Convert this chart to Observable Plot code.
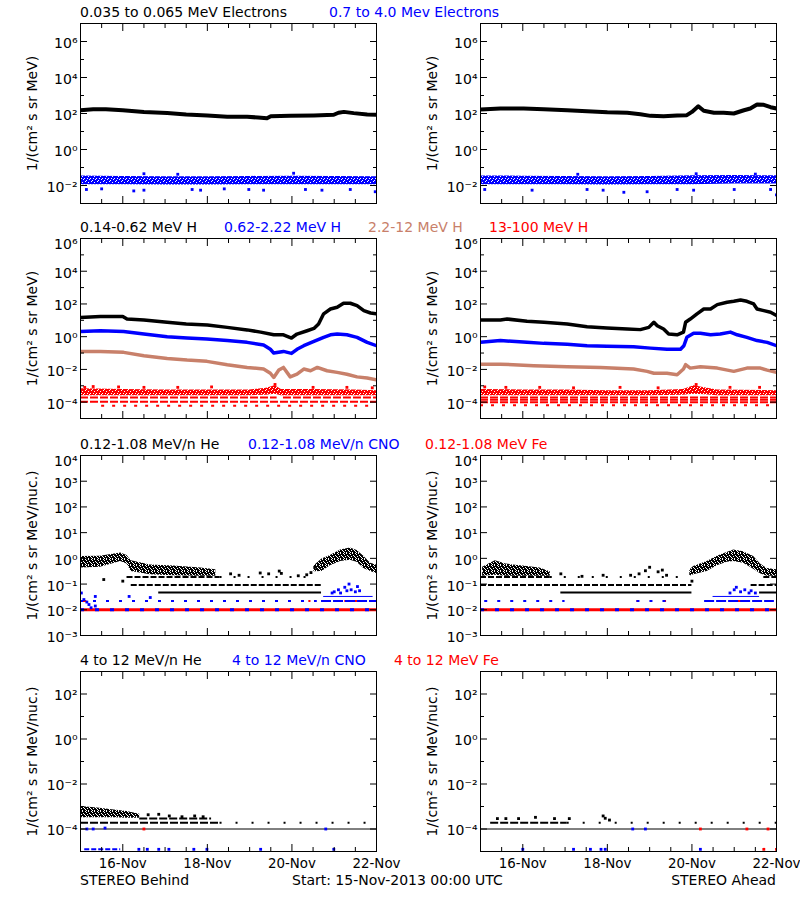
<!DOCTYPE html>
<html>
<head>
<meta charset="utf-8">
<script src="https://cdn.jsdelivr.net/npm/d3@7"></script>
<script src="https://cdn.jsdelivr.net/npm/@observablehq/plot@0.6"></script>
<style>
  html, body { margin: 0; padding: 0; background: #fff; }
  #root { position: relative; width: 800px; height: 900px; overflow: hidden; background: #fff; }
  #root svg { position: absolute; }
</style>
</head>
<body>
<div id="root"></div>
<script>
// ---------------- time axis (days after 15-Nov-2013 00:00 UTC) ----------------
const startDay = Date.UTC(2013, 10, 15);
const xMajorDays = [1, 3, 5];
const xMinorDays = [0.5, 1.5, 2, 2.5, 3.5, 4, 4.5, 5.5, 6, 6.5];
const xLabelDays = [1, 3, 5, 7];

// ---------------- titles ----------------
const titleRow1 = [["0.035 to 0.065 MeV Electrons", "black"], ["0.7 to 4.0 Mev Electrons", "blue"]];
const titleRow2 = [["0.14-0.62 MeV H", "black"], ["0.62-2.22 MeV H", "blue"], ["2.2-12 MeV H", "brown"], ["13-100 MeV H", "red"]];
const titleRow3 = [["0.12-1.08 MeV/n He", "black"], ["0.12-1.08 MeV/n CNO", "blue"], ["0.12-1.08 MeV Fe", "red"]];
const titleRow4 = [["4 to 12 MeV/n He", "black"], ["4 to 12 MeV/n CNO", "blue"], ["4 to 12 MeV Fe", "red"]];
const footLeft = "STEREO Behind";
const footMid = "Start: 15-Nov-2013 00:00 UTC";
const footRight = "STEREO Ahead";
const yLabelMeV = "1/(cm² s sr MeV)";
const yLabelNuc = "1/(cm² s sr MeV/nuc.)";

// ---------------- row 1: electrons  [day, flux] ----------------
const eLowBehind = [[0,151],[0.3,170],[0.6,174],[1.0,151],[1.5,123],[2.05,108],[2.5,88],[3.0,78],[3.47,67],[3.94,65],[4.2,60],[4.41,55],[4.5,71],[4.96,74],[5.52,78],[5.99,85],[6.1,110],[6.23,123],[6.46,105],[6.78,88],[7.0,85]];
const eLowAhead = [[0,166],[0.47,190],[1.02,190],[1.5,174],[2.05,151],[2.52,135],[3.0,117],[3.47,110],[3.78,91],[4.02,74],[4.33,71],[4.65,78],[4.88,81],[5.0,123],[5.15,251],[5.28,141],[5.52,110],[5.75,110],[5.99,100],[6.23,151],[6.38,190],[6.54,316],[6.7,302],[6.86,224],[7.0,190]];
// [day, low, high] envelope of the noisy high-energy electron channel
const eHighBehindBand = [[0,0.011,0.034],[1,0.011,0.032],[2,0.0105,0.031],[3,0.0105,0.031],[4,0.011,0.032],[5,0.011,0.033],[6,0.011,0.032],[7,0.011,0.031]];
const eHighAheadBand = [[0,0.011,0.034],[1,0.011,0.033],[2,0.011,0.032],[3,0.0105,0.031],[4,0.011,0.032],[5,0.011,0.035],[6,0.012,0.036],[7,0.012,0.035]];
const eHighBehindDots = [[0.14,0.006],[0.5,0.0065],[1.26,0.005],[1.5,0.0055],[2.64,0.006],[2.84,0.0055],[3.4,0.0065],[3.98,0.006],[4.33,0.0055],[5.32,0.006],[5.71,0.0055],[6.38,0.006],[6.97,0.0045],[1.5,0.045],[5.04,0.048],[2.3,0.042]];
const eHighAheadDots = [[0.1,0.006],[1.22,0.0055],[2.52,0.006],[2.9,0.0055],[3.39,0.0042],[3.94,0.0045],[4.65,0.006],[5.04,0.0055],[6.0,0.006],[6.86,0.006],[5.1,0.045],[6.5,0.043],[2.3,0.042],[7.0,0.003]];

// ---------------- row 2: protons ----------------
const hLowBehind = [[0,15],[0.47,17],[1.0,17],[1.1,12],[1.5,10.5],[2.05,7.6],[2.5,6.0],[3.0,5.1],[3.47,3.7],[3.94,2.6],[4.26,1.9],[4.57,1.3],[4.8,1.3],[4.99,0.83],[5.12,1.45],[5.36,2.3],[5.52,3.2],[5.63,6.0],[5.75,25],[5.91,49],[6.07,63],[6.22,110],[6.38,110],[6.54,79],[6.7,39],[6.86,28],[7.0,25]];
const hMidBehind = [[0,2.1],[0.47,2.3],[1.02,2.1],[1.5,1.45],[2.05,1.0],[2.52,0.83],[2.99,0.72],[3.47,0.58],[3.94,0.45],[4.33,0.31],[4.49,0.17],[4.57,0.1],[4.8,0.126],[4.99,0.095],[5.12,0.17],[5.28,0.28],[5.52,0.51],[5.75,0.91],[5.91,1.3],[6.07,1.45],[6.3,1.3],[6.54,0.91],[6.78,0.45],[7.0,0.28]];
const hHighBehind = [[0,0.126],[0.47,0.126],[1.02,0.11],[1.5,0.069],[2.05,0.047],[2.52,0.037],[2.99,0.031],[3.47,0.0195],[3.94,0.0132],[4.33,0.0105],[4.49,0.0058],[4.57,0.0032],[4.69,0.0091],[4.8,0.0132],[4.96,0.0035],[5.12,0.0051],[5.28,0.0105],[5.44,0.0083],[5.6,0.0132],[5.83,0.0083],[6.07,0.0066],[6.3,0.0051],[6.54,0.0035],[6.78,0.003],[7.0,0.0023]];
const hLowAhead = [[0,10.5],[0.47,10.5],[0.63,12],[1.1,8.7],[1.5,7.6],[2.05,6.0],[2.52,4.1],[2.99,3.4],[3.47,2.95],[3.78,2.7],[3.98,3.7],[4.1,7.6],[4.18,4.7],[4.33,2.95],[4.45,1.45],[4.65,1.3],[4.8,1.9],[4.85,7.6],[4.96,12],[5.12,25],[5.28,49],[5.44,49],[5.6,91],[5.83,126],[5.99,145],[6.15,174],[6.3,145],[6.46,100],[6.54,49],[6.7,39],[6.86,31],[7.0,19.5]];
const hMidAhead = [[0,0.45],[0.47,0.58],[1.1,0.45],[1.5,0.39],[2.05,0.35],[2.52,0.28],[2.99,0.26],[3.62,0.245],[4.02,0.2],[4.41,0.17],[4.73,0.17],[4.81,0.28],[4.88,0.91],[5.04,1.6],[5.2,1.6],[5.44,1.3],[5.67,1.45],[5.91,1.9],[6.07,1.3],[6.3,0.91],[6.54,0.58],[6.78,0.45],[7.0,0.28]];
const hHighAhead = [[0,0.021],[0.47,0.021],[1.26,0.0166],[2.05,0.0145],[2.84,0.0132],[3.62,0.0105],[3.94,0.0076],[4.1,0.0058],[4.41,0.0058],[4.65,0.0047],[4.8,0.0105],[4.85,0.0195],[4.96,0.012],[5.2,0.0145],[5.6,0.012],[5.99,0.0076],[6.3,0.012],[6.62,0.012],[6.78,0.0091],[7.0,0.0066]];
// 13-100 MeV H: [day, low, high] envelope, quantized count levels [from, to, flux], scattered points
const hTopBehindBand = [[0,2.5e-4,6.5e-4],[1,2.5e-4,6e-4],[2,2.5e-4,5.5e-4],[3,2.5e-4,5.5e-4],[4,2.5e-4,5.5e-4],[4.4,2.6e-4,7e-4],[4.6,3e-4,1.0e-3],[4.75,2.5e-4,6e-4],[5.5,2.5e-4,6e-4],[6.5,2.5e-4,5.5e-4],[7,2.5e-4,5e-4]];
const hTopAheadBand = [[0,2.5e-4,6e-4],[1,2.5e-4,5.5e-4],[2,2.5e-4,5.5e-4],[3,2.5e-4,5e-4],[4,2.5e-4,5e-4],[4.8,2.6e-4,6e-4],[5.05,3e-4,1.0e-3],[5.3,2.8e-4,7.5e-4],[5.6,2.5e-4,5.5e-4],[7,2.5e-4,5e-4]];
const hTopBehindLevels = [[0,4.65,1.9e-4],[4.8,7,1.9e-4],[0,7,1.05e-4]];
const hTopBehindSparse = [[0.5,7,6e-5]];
const hTopAheadLevels = [[0,7,1.9e-4],[0,7,1.4e-4],[0,7,1.0e-4]];
const hTopAheadSparse = [[0,7,6.5e-5]];
const hTopBehindDots = [[0.1,8e-4],[0.3,9e-4],[0.9,8.5e-4],[1.5,8e-4],[2.3,8e-4],[3.1,8.5e-4],[4.6,1.2e-3],[5.5,8e-4],[6.3,8e-4],[6.9,7.5e-4]];
const hTopAheadDots = [[0.1,8.5e-4],[0.6,8e-4],[1.4,8e-4],[2.2,7.5e-4],[3.3,8e-4],[4.2,7.5e-4],[5.1,1.2e-3],[5.9,8e-4],[6.6,8e-4]];

// ---------------- row 3: 0.12-1.08 MeV/n heavy ions ----------------
const heLowBehindBand1 = [[0,0.42,1.17],[0.47,0.45,1.2],[0.95,0.75,1.6],[1.1,0.6,1.3],[1.2,0.31,0.8],[1.65,0.23,0.55],[2.2,0.21,0.5],[2.84,0.2,0.42],[3.2,0.2,0.36]];
const heLowBehindBand2 = [[5.52,0.3,0.5],[5.71,0.31,0.95],[5.91,0.52,1.3],[6.15,0.75,2.1],[6.38,0.85,2.5],[6.54,0.7,2.0],[6.7,0.4,1.2],[6.86,0.31,0.65],[7.0,0.26,0.55]];
const heLowBehindLevels = [[1.1,3.3,0.19],[1.2,5.7,0.093]];
const heLowBehindSolid = [[1.85,5.7,0.047]];
const heLowBehindSparse = [[3.3,5.6,0.19]];
const heLowBehindDots = [[3.55,0.25],[3.75,0.22],[4.25,0.27],[4.45,0.25],[4.7,0.32],[4.75,0.26],[5.35,0.23],[5.45,0.28],[5.55,0.45],[5.15,0.21],[0.55,0.15],[1.0,0.13]];
const cnoLowBehindSparse = [[0,5.6,0.022]];
const cnoLowBehindSolid = [[5.7,7,0.022]];
const cnoLowBehindThin = [[5.75,6.92,0.033]];
const cnoLowBehindDots = [[0.02,0.045],[0.08,0.025],[0.15,0.02],[0.2,0.016],[0.25,0.012],[0.35,0.033],[0.35,0.014],[1.15,0.033],[1.65,0.03],[5.95,0.045],[6.0,0.05],[6.1,0.06],[6.15,0.045],[6.25,0.075],[6.3,0.055],[6.35,0.1],[6.4,0.06],[6.5,0.05],[6.55,0.08],[6.6,0.055]];
const feLowBehind = [[0,7,0.01]];
const feLowBehindDashes = [[0,0.15,0.022],[5.4,5.45,0.022],[6.25,6.55,0.022]];

const heLowAheadBand1 = [[0.05,0.2,0.45],[0.35,0.22,0.8],[0.6,0.2,0.6],[1.0,0.2,0.5],[1.4,0.2,0.42],[1.65,0.2,0.3]];
const heLowAheadBand2 = [[4.95,0.2,0.35],[5.04,0.23,0.48],[5.36,0.31,0.75],[5.6,0.52,1.2],[5.83,0.7,1.7],[5.99,0.75,2.1],[6.22,0.65,1.8],[6.46,0.38,1.17],[6.62,0.25,0.6],[6.78,0.2,0.4],[7.0,0.2,0.36]];
const heLowAheadLevels = [[0,1.65,0.19],[6.7,7,0.19],[0,5.0,0.093],[6.4,7,0.093]];
const heLowAheadSolid = [[1.9,5.0,0.047],[6.6,7,0.047]];
const heLowAheadSparse = [[1.65,4.9,0.19]];
const heLowAheadDots = [[3.55,0.22],[3.75,0.25],[3.9,0.33],[4.0,0.45],[4.2,0.3],[4.3,0.35],[4.4,0.22],[2.9,0.22],[2.4,0.2],[1.9,0.25],[5.0,0.13]];
const cnoLowAheadSparse = [[0.1,2.0,0.022],[3.7,4.4,0.022]];
const cnoLowAheadSolid = [[5.3,6.95,0.022]];
const cnoLowAheadThin = [[5.5,6.6,0.033]];
const cnoLowAheadDots = [[5.9,0.045],[6.0,0.06],[6.05,0.075],[6.15,0.05],[6.25,0.06],[6.35,0.045],[6.4,0.055],[6.5,0.045]];
const feLowAhead = [[0,7,0.01]];
const feLowAheadDashes = [[3.7,3.75,0.022],[4.35,4.4,0.022],[5.95,6.25,0.022]];

// ---------------- row 4: 4-12 MeV/n heavy ions ----------------
const heHighBehindBand = [[0,3.2e-4,1.0e-3],[0.4,3.2e-4,8.5e-4],[0.8,3.2e-4,7e-4],[1.1,3.0e-4,6e-4],[1.4,3.0e-4,4.5e-4]];
const heHighBehindLevels = [[0,3.3,1.9e-4],[1.4,3.1,2.9e-4]];
const heHighBehindSparse = [[3.3,7,1.9e-4]];
const heHighBehindFloor = [[0,7,1e-4]];
const heHighBehindDots = [[1.6,4.3e-4],[1.85,4.5e-4],[2.1,3.8e-4],[2.4,3.5e-4],[2.7,3.8e-4],[2.9,3.5e-4]];
const cnoHighBehindRun = [[0.1,0.95,1.25e-5]];
const cnoHighBehindDots = [[1.38,1.25e-5],[1.58,1.25e-5],[1.85,1.25e-5],[2.09,1.25e-5],[2.68,1.25e-5],[2.99,1.25e-5],[4.26,1.25e-5],[5.99,1.25e-5],[0.15,1e-4],[0.3,1e-4],[0.58,1.1e-4],[5.8,1e-4]];
const feHighBehindDots = [[1.5,1e-4]];

const heHighAheadLevels = [[0.24,2.05,1.9e-4]];
const heHighAheadSparse = [[2.05,7,1.9e-4]];
const heHighAheadFloor = [[0,7,1e-4]];
const heHighAheadDots = [[0.4,2.9e-4],[0.6,2.9e-4],[0.9,2.9e-4],[1.3,3.3e-4],[1.75,2.9e-4],[2.1,2.9e-4],[2.9,3.8e-4],[2.95,3.0e-4],[3.05,2.5e-4]];
const cnoHighAheadDots = [[1.0,1.25e-5],[2.2,1.25e-5],[2.6,1.25e-5],[2.85,1.25e-5],[2.95,1.25e-5],[5.2,1.25e-5],[3.6,1e-4],[3.9,1e-4]];
const feHighAheadDots = [[6.7,1.25e-5],[7.0,1.25e-5],[5.2,1e-4],[6.3,1e-4],[6.8,1e-4]];

// ---------------- y axes per row ----------------
const yDomains = [[1e-3, 1e7], [1e-5, 1e6], [1e-3, 1e4], [1e-5, 1e3]];
const yMajorTicks = [[1e-2, 1, 1e2, 1e4, 1e6], [1e-4, 1e-2, 1, 1e2, 1e4], [1e-2, 1e-1, 1, 10, 1e2, 1e3], [1e-4, 1e-2, 1, 1e2]];
const yMinorTicks = [[1e-1, 10, 1e3, 1e5], [1e-3, 1e-1, 10, 1e3, 1e5], [], [1e-3, 1e-1, 10]];
const yTickLabels = [[1e-2, 1, 1e2, 1e4, 1e6], [1e-4, 1e-2, 1, 1e2, 1e4], [1e-3, 1e-2, 1e-1, 1, 10, 1e2, 1e3], [1e-4, 1e-2, 1, 1e2]];
const yTopLabels = [[], [1e6], [1e4], []];
const yLabels = [yLabelMeV, yLabelMeV, yLabelNuc, yLabelNuc];

// ---------------- layout & style (not data) ----------------
const FONT = "DejaVu Sans, sans-serif";
const FS = 14;
const COLORS = {black: "#000000", blue: "#0000ff", brown: "#c8806a", red: "#ff0000"};
const frameTops = [23, 238, 455, 671];
const frameH = 180;
const titleX = [[80, 329], [80, 224, 368, 489], [80, 248, 425], [80, 232, 394]];

const root = document.getElementById("root");

// speckle fill patterns imitating dense scatters of single-pixel points
const defs = d3.select(root).append("svg").attr("width", 0).attr("height", 0).append("defs");
function speckle(id, color, size, holes) {
  const p = defs.append("pattern").attr("id", id).attr("width", size).attr("height", size).attr("patternUnits", "userSpaceOnUse");
  const isHole = new Set(holes.map(([x, y]) => x + "," + y));
  for (let y = 0; y < size; y++) for (let x = 0; x < size; x++) {
    if (!isHole.has(x + "," + y)) p.append("rect").attr("x", x).attr("y", y).attr("width", 1).attr("height", 1).attr("fill", color).attr("shape-rendering", "crispEdges");
  }
}
const sparseHoles = [[1,0],[4,0],[2,1],[5,2],[0,3],[3,3],[1,4],[4,5],[2,5]];
const denseHoles = [[1,0],[4,1],[0,3],[3,3],[5,4],[2,5]];
speckle("speckBlack", "#000", 6, sparseHoles);
speckle("speckBlue", "#0000ff", 6, denseHoles);
speckle("speckRed", "#ff0000", 6, denseHoles);
const FILLS = {black: "url(#speckBlack)", blue: "url(#speckBlue)", red: "url(#speckRed)"};

const toDate = d => new Date(startDay + d * 864e5);
const X = d => toDate(d[0]);
const supMap = {"-": "⁻", "0": "⁰", "1": "¹", "2": "²", "3": "³", "4": "⁴", "5": "⁵", "6": "⁶", "7": "⁷", "8": "⁸", "9": "⁹"};
const pow10 = v => "10" + String(Math.round(Math.log10(v))).split("").map(c => supMap[c]).join("");

const line = (data, color, w = 3.5) => Plot.line(data, {x: X, y: d => d[1], stroke: COLORS[color], strokeWidth: w, clip: true});
const band = (data, color) => Plot.areaY(data, {x: X, y1: d => d[1], y2: d => d[2], fill: FILLS[color], clip: true});
const level = (data, color, dash, w = 2) => Plot.ruleY(data, {y: d => d[2], x1: d => toDate(d[0]), x2: d => toDate(d[1]), stroke: COLORS[color], strokeWidth: w, strokeDasharray: dash, clip: true});
const dots = (data, color, r = 1.6) => Plot.dot(data, {x: X, y: d => d[1], r, symbol: "square", fill: COLORS[color], stroke: "none", clip: true});

const blank = () => "";
function panel(col, row, dataMarks) {
  const mt = 10, mb = row === 3 ? 40 : 10;
  const major = yMajorTicks[row], minor = yMinorTicks[row];
  const xMaj = xMajorDays.map(toDate), xMin = xMinorDays.map(toDate);
  const marks = [
    ...dataMarks,
    Plot.frame({stroke: "black"}),
    Plot.axisY(major, {anchor: "left", tickSize: 7, dx: 7, tickFormat: blank, label: null}),
    Plot.axisY(major, {anchor: "right", tickSize: 7, dx: -7, tickFormat: blank, label: null}),
    Plot.axisX(xMaj, {anchor: "bottom", tickSize: 7, dy: -7, tickFormat: blank, label: null}),
    Plot.axisX(xMaj, {anchor: "top", tickSize: 7, dy: 7, tickFormat: blank, label: null}),
    Plot.axisX(xMin, {anchor: "bottom", tickSize: 4, dy: -4, tickFormat: blank, label: null}),
    Plot.axisX(xMin, {anchor: "top", tickSize: 4, dy: 4, tickFormat: blank, label: null}),
    Plot.axisY(yTickLabels[row], {anchor: "left", tickSize: 0, tickPadding: 3, dy: 2, tickFormat: pow10, label: null}),
    Plot.text([yLabels[row]], {text: d => d, frameAnchor: "left", rotate: -90, dx: -48, textAnchor: "middle", lineAnchor: "middle"})
  ];
  if (yTopLabels[row].length) {
    marks.push(Plot.axisY(yTopLabels[row], {anchor: "left", tickSize: 0, tickPadding: 3, dy: 6, tickFormat: pow10, label: null}));
  }
  if (minor.length) {
    marks.push(Plot.axisY(minor, {anchor: "left", tickSize: 4, dx: 4, tickFormat: blank, label: null}));
    marks.push(Plot.axisY(minor, {anchor: "right", tickSize: 4, dx: -4, tickFormat: blank, label: null}));
  }
  if (row === 3) {
    marks.push(Plot.axisX(xLabelDays.map(toDate), {anchor: "bottom", tickSize: 0, tickPadding: 7, fontSize: 13.4, tickFormat: d3.utcFormat("%d-%b"), label: null}));
  }
  const svg = Plot.plot({
    width: 400, height: mt + frameH + mb,
    marginLeft: 80, marginRight: 24, marginTop: mt, marginBottom: mb,
    x: {type: "utc", domain: [toDate(0), toDate(7)]},
    y: {type: "log", domain: yDomains[row]},
    style: {fontFamily: FONT, fontSize: FS + "px", background: "transparent", overflow: "visible", color: "black"},
    marks
  });
  svg.style.left = (col * 400) + "px";
  svg.style.top = (frameTops[row] - mt) + "px";
  root.appendChild(svg);
}

// Row 1
panel(0, 0, [band(eHighBehindBand, "blue"), dots(eHighBehindDots, "blue"), line(eLowBehind, "black", 4)]);
panel(1, 0, [band(eHighAheadBand, "blue"), dots(eHighAheadDots, "blue"), line(eLowAhead, "black", 4)]);
// Row 2
panel(0, 1, [
  band(hTopBehindBand, "red"), level(hTopBehindLevels, "red", "8,2"), level(hTopBehindSparse, "red", "3,8"), dots(hTopBehindDots, "red"),
  line(hHighBehind, "brown"), line(hMidBehind, "blue"), line(hLowBehind, "black")
]);
panel(1, 1, [
  band(hTopAheadBand, "red"), level(hTopAheadLevels, "red", "8,2"), level(hTopAheadSparse, "red", "3,8"), dots(hTopAheadDots, "red"),
  line(hHighAhead, "brown"), line(hMidAhead, "blue"), line(hLowAhead, "black")
]);
// Row 3
panel(0, 2, [
  level(feLowBehind, "red", null, 3), level(feLowBehind, "blue", "4,11", 3), level(feLowBehindDashes, "red", null, 2),
  level(cnoLowBehindSparse, "blue", "3,10"), level(cnoLowBehindSolid, "blue", "10,2"), level(cnoLowBehindThin, "blue", null, 1), dots(cnoLowBehindDots, "blue"),
  band(heLowBehindBand1, "black"), band(heLowBehindBand2, "black"),
  level(heLowBehindLevels, "black", "6,2"), level(heLowBehindSolid, "black", null), level(heLowBehindSparse, "black", "2,12"), dots(heLowBehindDots, "black")
]);
panel(1, 2, [
  level(feLowAhead, "red", null, 3), level(feLowAhead, "blue", "4,11", 3), level(feLowAheadDashes, "red", null, 2),
  level(cnoLowAheadSparse, "blue", "3,10"), level(cnoLowAheadSolid, "blue", "10,2"), level(cnoLowAheadThin, "blue", null, 1), dots(cnoLowAheadDots, "blue"),
  band(heLowAheadBand1, "black"), band(heLowAheadBand2, "black"),
  level(heLowAheadLevels, "black", "6,2"), level(heLowAheadSolid, "black", null), level(heLowAheadSparse, "black", "2,12"), dots(heLowAheadDots, "black")
]);
// Row 4
panel(0, 3, [
  band(heHighBehindBand, "black"), level(heHighBehindLevels, "black", "8,2"), level(heHighBehindSparse, "black", "2,14"),
  level(heHighBehindFloor, "black", null, 1), dots(heHighBehindDots, "black"),
  level(cnoHighBehindRun, "blue", "5,2"), dots(cnoHighBehindDots, "blue"), dots(feHighBehindDots, "red")
]);
panel(1, 3, [
  level(heHighAheadLevels, "black", "8,2"), level(heHighAheadSparse, "black", "2,14"),
  level(heHighAheadFloor, "black", null, 1), dots(heHighAheadDots, "black"),
  dots(cnoHighAheadDots, "blue"), dots(feHighAheadDots, "red")
]);

// ---------------- titles and footer ----------------
const ov = d3.select(root).append("svg")
  .attr("width", 800).attr("height", 900)
  .style("left", "0px").style("top", "0px")
  .style("font-family", FONT).style("font-size", FS + "px");
[titleRow1, titleRow2, titleRow3, titleRow4].forEach((row, i) => {
  row.forEach(([txt, color], j) => {
    ov.append("text").attr("x", titleX[i][j]).attr("y", frameTops[i] - 6).attr("fill", COLORS[color]).text(txt);
  });
});
ov.append("text").attr("x", 80).attr("y", 885).text(footLeft);
ov.append("text").attr("x", 292).attr("y", 885).text(footMid);
ov.append("text").attr("x", 776).attr("y", 885).attr("text-anchor", "end").text(footRight);
</script>
</body>
</html>
